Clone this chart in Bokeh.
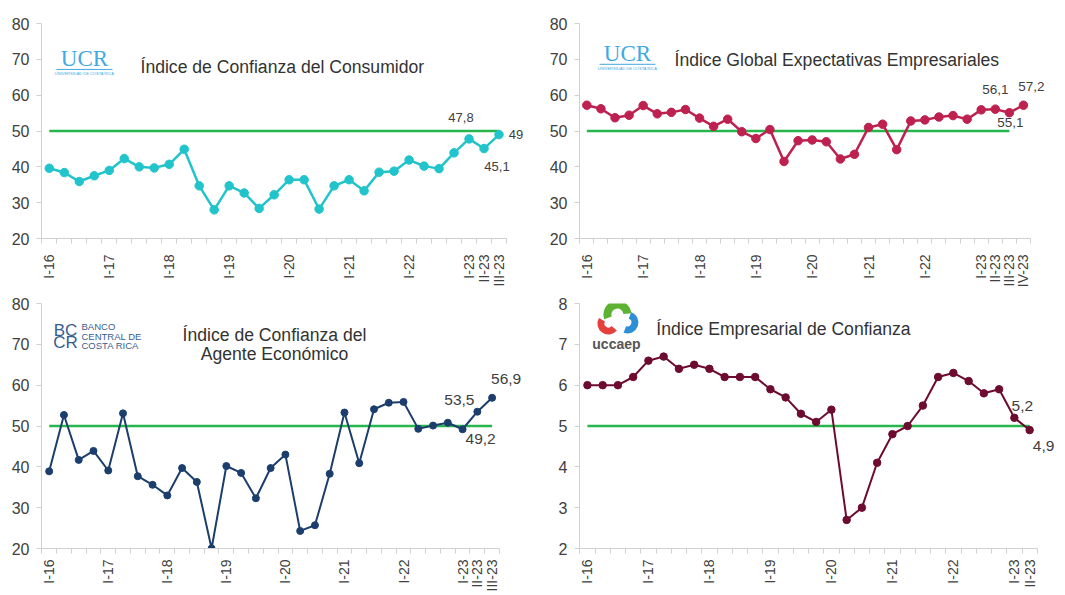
import math
from bokeh.plotting import figure
from bokeh.layouts import gridplot
from bokeh.models import FixedTicker, Label, Range1d
from bokeh.embed import file_html
from bokeh.resources import INLINE

# ---------------- data ----------------
romans = ["I", "II", "III", "IV"]

def quarters(last_year, last_q):
    out = []
    for yr in range(16, last_year + 1):
        for q in range(4):
            if yr == last_year and q >= last_q:
                break
            out.append(f"{romans[q]}-{yr}")
    return out

cats_consumidor = quarters(23, 3)
cats_empresariales = quarters(23, 4)
cats_agente = quarters(23, 3)
cats_uccaep = quarters(23, 2)

consumidor = [39.6, 38.4, 35.9, 37.5, 39.0, 42.3, 40.0, 39.7, 40.7, 44.9, 34.7,
              28.0, 34.7, 32.7, 28.4, 32.2, 36.4, 36.4, 28.2, 34.7, 36.4, 33.3,
              38.5, 38.8, 41.9, 40.2, 39.5, 43.9, 47.8, 45.1, 49.0]
empresariales = [57.2, 56.2, 53.7, 54.4, 57.1, 54.8, 55.2, 56.0, 53.6, 51.3, 53.3,
                 49.8, 47.9, 50.4, 41.5, 47.3, 47.5, 47.0, 42.2, 43.5, 51.0, 51.9,
                 44.8, 52.8, 53.1, 53.9, 54.3, 53.3, 55.9, 56.1, 55.1, 57.2]
agente = [38.9, 52.7, 41.7, 43.9, 39.1, 53.1, 37.7, 35.6, 33.0, 39.7, 36.3,
          20.0, 40.2, 38.5, 32.3, 39.7, 43.0, 24.3, 25.7, 38.3, 53.3, 40.9,
          54.1, 55.7, 55.9, 49.3, 50.1, 50.8, 49.2, 53.5, 56.9]
uccaep = [6.0, 6.0, 6.0, 6.2, 6.6, 6.7, 6.4, 6.5, 6.4, 6.2, 6.2, 6.2, 5.9, 5.7,
          5.3, 5.1, 5.4, 2.7, 3.0, 4.1, 4.8, 5.0, 5.5, 6.2, 6.3, 6.1, 5.8, 5.9,
          5.2, 4.9]

ticks_consumidor = ["I-16", "I-17", "I-18", "I-19", "I-20", "I-21", "I-22", "I-23", "II-23", "III-23"]
ticks_empresariales = ["I-16", "I-17", "I-18", "I-19", "I-20", "I-21", "I-22", "I-23", "II-23", "III-23", "IV-23"]
ticks_agente = ["I-16", "I-17", "I-18", "I-19", "I-20", "I-21", "I-22", "I-23", "II-23", "III-23"]
ticks_uccaep = ["I-16", "I-17", "I-18", "I-19", "I-20", "I-21", "I-22", "I-23", "II-23"]

yticks_50 = [20, 30, 40, 50, 60, 70, 80]
yticks_5 = [2, 3, 4, 5, 6, 7, 8]

FONT = "Liberation Sans"
TXT = "#404040"
GREEN = "#27B64C"
AXIS = "#D0D0D0"
TITLE_SIZE = "17.6px"


def fmt(v):
    s = f"{v:.1f}".replace(".", ",")
    return s[:-2] if s.endswith(",0") else s


class Panel:
    def __init__(self, cats, vals, color, ylo, yhi, yticks, tick_labels,
                 fig_x, fig_y, fig_w, fig_h, frame, lw, ms, green_end, threshold,
                 label_size, standoff):
        self.n = len(cats)
        fx0, fy0, fx1, fy1 = frame  # reference-picture axis box
        self.fx0, self.fx1 = fx0, fx1
        self.ylo, self.yhi = ylo, yhi
        left = round(fx0 - fig_x)
        top = round(fy0 - fig_y)
        bottom = round(fig_y + fig_h - fy1)
        right = 2
        self.fy0 = fig_y + top
        self.fy1 = fig_y + fig_h - bottom
        L = fig_x + left
        R = fig_x + fig_w - right
        k = self.n / (fx1 - fx0)
        x_start = -0.5 - (fx0 - L) * k
        x_end = -0.5 + (R - fx0) * k
        self.label_size = label_size
        p = figure(width=fig_w, height=fig_h, output_backend="svg",
                   toolbar_location=None,
                   x_range=Range1d(x_start, x_end),
                   y_range=Range1d(ylo, yhi),
                   min_border_left=left, min_border_right=right,
                   min_border_top=top, min_border_bottom=bottom)
        p.outline_line_color = None
        p.grid.visible = False
        p.background_fill_color = "white"
        p.border_fill_color = "white"

        idx = [cats.index(t) for t in tick_labels]
        p.xaxis.bounds = (-0.5, self.n - 0.5)
        p.xaxis.ticker = FixedTicker(ticks=idx,
                                     minor_ticks=[i - 0.5 for i in range(self.n + 1)])
        p.xaxis.major_label_overrides = {i: t for i, t in zip(idx, tick_labels)}
        p.xaxis.major_label_orientation = math.pi / 2
        p.xaxis.major_tick_out = 0
        p.xaxis.major_tick_in = 0
        p.xaxis.minor_tick_out = 5
        p.xaxis.minor_tick_in = 0
        p.xaxis.minor_tick_line_color = AXIS
        p.xaxis.axis_line_color = AXIS
        p.xaxis.major_label_standoff = standoff
        p.xaxis.major_label_text_font = FONT
        p.xaxis.major_label_text_font_size = "14px"
        p.xaxis.major_label_text_color = TXT

        p.yaxis.ticker = FixedTicker(ticks=yticks)
        p.yaxis.major_tick_out = 5
        p.yaxis.major_tick_in = 0
        p.yaxis.major_tick_line_color = AXIS
        p.yaxis.minor_tick_line_color = None
        p.yaxis.axis_line_color = AXIS
        p.yaxis.major_label_standoff = 7
        p.yaxis.major_label_text_font = FONT
        p.yaxis.major_label_text_font_size = "16px"
        p.yaxis.major_label_text_color = TXT

        xs = list(range(self.n))
        p.line([0, green_end], [threshold, threshold], line_color=GREEN, line_width=2.5)
        p.line(xs, vals, line_color=color, line_width=lw)
        p.scatter(xs, vals, size=ms, fill_color=color, line_color=color)
        self.p = p
        self.vals = vals

    def dx(self, X):
        return -0.5 + (X - self.fx0) / (self.fx1 - self.fx0) * self.n

    def dy(self, Y):
        return self.yhi - (Y - self.fy0) / (self.fy1 - self.fy0) * (self.yhi - self.ylo)

    def text(self, X, Y, s, size=TITLE_SIZE, color="#333333", align="left", font=FONT,
             style="normal"):
        self.p.add_layout(Label(x=self.dx(X), y=self.dy(Y), text=s, text_font=font,
                                text_font_size=size, text_color=color,
                                text_align=align, text_baseline="middle",
                                text_font_style=style))

    def value_label(self, i, ox, oy):
        self.p.add_layout(Label(x=i, y=self.vals[i], text=fmt(self.vals[i]),
                                x_offset=ox, y_offset=-oy, text_font=FONT,
                                text_font_size=self.label_size, text_color=TXT,
                                text_align="center", text_baseline="middle"))

    def seg(self, X0, X1, Y, color, w=1):
        self.p.segment(x0=[self.dx(X0)], y0=[self.dy(Y)], x1=[self.dx(X1)],
                       y1=[self.dy(Y)], line_color=color, line_width=w)


# ---------------- panels ----------------
P1 = Panel(cats_consumidor, consumidor, "#22C4CC", 20, 80, yticks_50, ticks_consumidor,
           0, 0, 530, 290, (41.3, 18.7, 506, 239.3), 2.5, 8.5, 30, 50, "13px", 11)
P2 = Panel(cats_empresariales, empresariales, "#BE2150", 20, 80, yticks_50, ticks_empresariales,
           530, 0, 535, 290, (579.3, 23.3, 1030, 239.3), 2.5, 8.5, 30, 50, "13.5px", 11)
P3 = Panel(cats_agente, agente, "#1C3E6C", 20, 80, yticks_50, ticks_agente,
           0, 290, 530, 305, (41.3, 300, 499, 548.3), 2, 7, 30, 50, "15.5px", 6)
P4 = Panel(cats_uccaep, uccaep, "#6E0B30", 2, 8, yticks_5, ticks_uccaep,
           530, 290, 535, 305, (578.3, 303.3, 1036.7, 547.7), 2, 7.5, 29, 5, "15.5px", 6)

# value labels (offsets in screen px, +y = down)
P1.value_label(28, -8, -21)
P1.value_label(29, 13, 18)
P1.value_label(30, 17, 0)
P2.value_label(29, 0, -20)
P2.value_label(30, 1, 10)
P2.value_label(31, 8, -19)
P3.value_label(29, -18, -12)
P3.value_label(28, 18, 10)
P3.value_label(30, 14, -19)
P4.value_label(28, 8, -12)
P4.value_label(29, 14, 16)

# titles
P1.text(140, 64, "Índice de Confianza del Consumidor")
P2.text(674, 60, "Índice Global Expectativas Empresariales")
P3.text(274, 332, "Índice de Confianza del", align="center")
P3.text(274, 351, "Agente Económico", align="center")
P4.text(655, 328, "Índice Empresarial de Confianza")

# UCR logos
UCR_BLUE = "#41A9E3"
for P, cx, ly in ((P1, 84, 66), (P2, 627, 64)):
    P.text(cx, ly - 11, "UCR", size="23px", color=UCR_BLUE, align="center",
           font="Liberation Serif")
    P.seg(cx - 28, cx + 28, ly, UCR_BLUE, 1)
    P.text(cx, ly + 4.5, "UNIVERSIDAD DE COSTA RICA", size="4px", color=UCR_BLUE,
           align="center")

# BCCR logo
BC = "#3A5D8F"
P3.text(65, 327.5, "BC", size="17px", color=BC, align="center")
P3.text(65, 339.5, "CR", size="17px", color=BC, align="center")
P3.text(81, 323.5, "BANCO", size="9.5px", color=BC)
P3.text(81, 333, "CENTRAL DE", size="9.5px", color=BC)
P3.text(81, 342.5, "COSTA RICA", size="9.5px", color=BC)

# UCCAEP logo
for (cx, cy, r0, r1, a0, a1, col) in ((616, 314, 6, 14, 5, 200, "#5DB233"),
                                      (607, 323, 4, 11, 150, 320, "#E5403B"),
                                      (626, 322, 4, 11, -110, 70, "#2F8FD6")):
    P4.p.annular_wedge(x=[P4.dx(cx)], y=[P4.dy(cy)], inner_radius=r0, outer_radius=r1,
                       inner_radius_units="screen", outer_radius_units="screen",
                       start_angle=math.radians(a0), end_angle=math.radians(a1),
                       fill_color=col, line_color=None)
P4.text(615, 343, "uccaep", size="14px", color="#555555", align="center", style="bold")

grid = gridplot([[P1.p, P2.p], [P3.p, P4.p]], toolbar_location=None)
open("out.html", "w").write(file_html(grid, INLINE))
